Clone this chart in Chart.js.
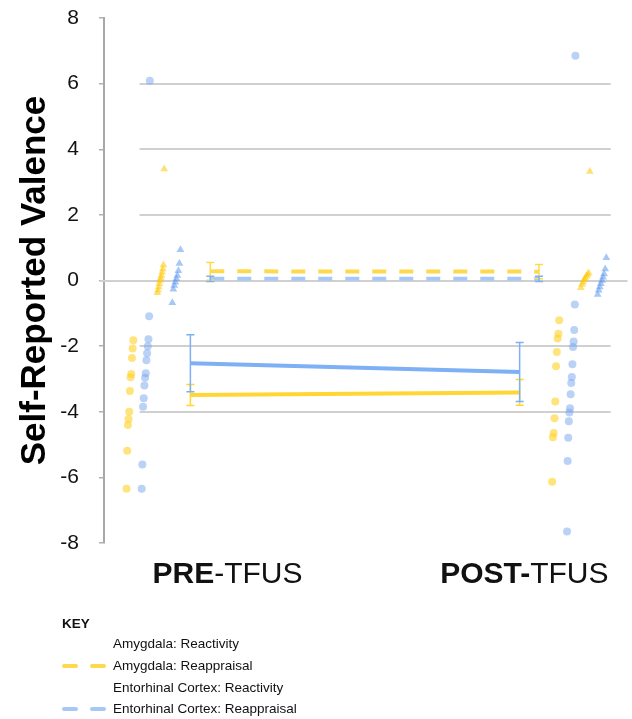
<!DOCTYPE html>
<html>
<head>
<meta charset="utf-8">
<script src="https://cdn.jsdelivr.net/npm/chart.js@4/dist/chart.umd.min.js"></script>
<style>
  html, body { margin: 0; padding: 0; background: #fff; }
  #wrap { position: relative; width: 632px; height: 719px; }
  #grafico { position: absolute; left: 0; top: 0; }
  .key { position: absolute; font-family: "Liberation Sans", Arial, sans-serif; font-size: 13.5px; line-height: 13.5px; color: #111; white-space: nowrap; }
  .key.title { font-weight: bold; }
  .dash { position: absolute; height: 4px; border-radius: 2px; }
</style>
</head>
<body>
<div id="wrap">
  <canvas id="grafico" width="632" height="719"></canvas>

  <div class="key title" style="left:62px; top:617px;">KEY</div>
  <div class="key" style="left:113px; top:637px;">Amygdala: Reactivity</div>
  <div class="key" style="left:113px; top:659px;">Amygdala: Reappraisal</div>
  <div class="key" style="left:113px; top:681px;">Entorhinal Cortex: Reactivity</div>
  <div class="key" style="left:113px; top:702px;">Entorhinal Cortex: Reappraisal</div>
  <div class="dash" style="left:62px; width:16px; top:664px; background:#FFD94D;"></div>
  <div class="dash" style="left:90px; width:16px; top:664px; background:#FFD94D;"></div>
  <div class="dash" style="left:62px; width:16px; top:707px; background:#A7C7F7;"></div>
  <div class="dash" style="left:90px; width:16px; top:707px; background:#A7C7F7;"></div>
</div>

<script>
// valores
var conditions = ['PRE', 'POST'];
var yTicks = [-8, -6, -4, -2, 0, 2, 4, 6, 8];
var gridValues = [-4, -2, 2, 4, 6];

// medias e erros (PRE, POST)
var amygReactMean = [-3.49, -3.41];
var amygReactErr = [0.32, 0.39];
var amygReapMean = [0.28, 0.27];
var amygReapErr = [0.27, 0.22];
var ecReactMean = [-2.52, -2.79];
var ecReactErr = [0.87, 0.9];
var ecReapMean = [0.05, 0.05];
var ecReapErr = [0.08, 0.08];

// pontos individuais
var preAmygReact = [-6.35, -5.19, -4.4, -4.22, -4.0, -3.37, -2.95, -2.85, -2.36, -2.07, -1.82];
var preEcReact = [-6.35, -5.61, -3.85, -3.59, -3.2, -2.96, -2.83, -2.43, -2.22, -2.0, -1.79, -1.09, 6.09];
var preAmygReap = [-0.37, -0.3, -0.2, -0.1, 0.0, 0.08, 0.15, 0.25, 0.35, 0.47, 3.4];
var preEcReap = [-0.68, -0.27, -0.15, -0.05, 0.05, 0.15, 0.3, 0.52, 0.94];
var postAmygReact = [-6.13, -4.78, -4.65, -4.2, -3.69, -2.61, -2.18, -1.77, -1.62, -1.21];
var postEcReact = [-7.65, -5.5, -4.79, -4.29, -4.02, -3.89, -3.47, -3.12, -2.94, -2.55, -2.03, -1.86, -1.51, -0.73, 6.85];
var postAmygReap = [-0.22, -0.12, -0.05, 0.02, 0.08, 0.13, 0.18, 0.23, 3.32];
var postEcReap = [-0.43, -0.3, -0.2, -0.1, 0.0, 0.1, 0.2, 0.35, 0.69];

// layout no eixo x (escala 0..100)
var reactX = [16.5, 79.4];
var reapX = [20.3, 83.1];
var labelX = [23.6, 80.3];
var gridFrom = 6.8, gridTo = 96.8;

var yellow = '#FFD633', yellowDash = '#FFD94D';
var blue = '#7DB0F5', blueDash = '#A7C7F7';
var fonte = '"Liberation Sans", Arial, sans-serif';

// pontos ordenados, espalhados em diagonal como no original
function _espalha(values, xFrom, xTo) {
    var sorted = values.slice().sort(function (a, b) { return a - b; });
    var step = sorted.length > 1 ? (xTo - xFrom) / (sorted.length - 1) : 0;
    return sorted.map(function (v, i) { return { x: xFrom + i * step, y: v }; });
}

function _pontos(data, color, style, radius) {
    return {
        type: 'scatter', data: data, pointStyle: style, pointRadius: radius,
        backgroundColor: color, borderWidth: 0, pointHoverRadius: radius
    };
}

function _linha(xs, means, color, dash) {
    return {
        type: 'line',
        data: xs.map(function (x, i) { return { x: x, y: means[i] }; }),
        borderColor: color, borderWidth: 4, borderDash: dash || [],
        pointRadius: 0, fill: false, tension: 0
    };
}

var errorSets = [
    { xs: reactX, mean: amygReactMean, err: amygReactErr, color: yellow },
    { xs: reactX, mean: ecReactMean, err: ecReactErr, color: blue },
    { xs: reapX, mean: amygReapMean, err: amygReapErr, color: yellowDash },
    { xs: reapX, mean: ecReapMean, err: ecReapErr, color: blue }
];

var gridPlugin = {
    id: 'gridPlugin',
    beforeDatasetsDraw: function (chart) {
        var ctx = chart.ctx, x = chart.scales.x, y = chart.scales.y;
        ctx.save();
        ctx.strokeStyle = '#d0d0d0';
        ctx.lineWidth = 2;
        gridValues.forEach(function (v) {
            var py = Math.round(y.getPixelForValue(v));
            ctx.beginPath();
            ctx.moveTo(x.getPixelForValue(gridFrom), py);
            ctx.lineTo(x.getPixelForValue(gridTo), py);
            ctx.stroke();
        });
        var p0 = Math.round(y.getPixelForValue(0));
        ctx.beginPath();
        ctx.moveTo(chart.chartArea.left - 4, p0);
        ctx.lineTo(chart.chartArea.right, p0);
        ctx.stroke();
        ctx.restore();
    }
};

var errorPlugin = {
    id: 'errorPlugin',
    afterDatasetsDraw: function (chart) {
        var ctx = chart.ctx, x = chart.scales.x, y = chart.scales.y;
        ctx.save();
        ctx.lineWidth = 1.5;
        errorSets.forEach(function (s) {
            ctx.strokeStyle = s.color;
            s.xs.forEach(function (xv, i) {
                var px = x.getPixelForValue(xv);
                var top = y.getPixelForValue(s.mean[i] + s.err[i]);
                var bot = y.getPixelForValue(s.mean[i] - s.err[i]);
                ctx.beginPath();
                ctx.moveTo(px, top); ctx.lineTo(px, bot);
                ctx.moveTo(px - 4, top); ctx.lineTo(px + 4, top);
                ctx.moveTo(px - 4, bot); ctx.lineTo(px + 4, bot);
                ctx.stroke();
            });
        });
        ctx.restore();
    }
};

// PRE-TFUS / POST-TFUS com parte em negrito
var labelPlugin = {
    id: 'labelPlugin',
    afterDraw: function (chart) {
        var ctx = chart.ctx, x = chart.scales.x;
        var partes = [['PRE', '-TFUS'], ['POST-', 'TFUS']];
        var base = chart.chartArea.bottom + 40;
        ctx.save();
        ctx.fillStyle = '#111';
        ctx.textBaseline = 'alphabetic';
        ctx.textAlign = 'left';
        partes.forEach(function (p, i) {
            ctx.font = 'bold 30px ' + fonte;
            var w1 = ctx.measureText(p[0]).width;
            ctx.font = '30px ' + fonte;
            var w2 = ctx.measureText(p[1]).width;
            var start = x.getPixelForValue(labelX[i]) - (w1 + w2) / 2;
            ctx.font = 'bold 30px ' + fonte;
            ctx.fillText(p[0], start, base);
            ctx.font = '30px ' + fonte;
            ctx.fillText(p[1], start + w1, base);
        });
        ctx.restore();
    }
};

var ctx = document.getElementById('grafico').getContext('2d');
var chart = new Chart(ctx, {
    data: {
        datasets: [
            _pontos(_espalha(preAmygReact, 4.3, 5.6), 'rgba(255, 210, 40, 0.6)', 'circle', 4),
            _pontos(_espalha(preEcReact, 7.2, 8.75), 'rgba(120, 165, 240, 0.5)', 'circle', 4),
            _pontos(_espalha(preAmygReap, 10.2, 11.5), 'rgba(255, 200, 0, 0.55)', 'triangle', 4.5),
            _pontos(_espalha(preEcReap, 13.05, 14.6), 'rgba(80, 145, 240, 0.5)', 'triangle', 4.5),
            _pontos(_espalha(postAmygReact, 85.6, 86.95), 'rgba(255, 210, 40, 0.6)', 'circle', 4),
            _pontos(_espalha(postEcReact, 88.45, 90.05), 'rgba(120, 165, 240, 0.5)', 'circle', 4),
            _pontos(_espalha(postAmygReap, 91.1, 92.8), 'rgba(255, 200, 0, 0.55)', 'triangle', 4.5),
            _pontos(_espalha(postEcReap, 94.3, 95.95), 'rgba(80, 145, 240, 0.5)', 'triangle', 4.5),
            _linha(reactX, amygReactMean, yellow),
            _linha(reactX, ecReactMean, blue),
            _linha(reapX, amygReapMean, yellowDash, [14, 13]),
            _linha(reapX, ecReapMean, blueDash, [14, 13])
        ]
    },
    options: {
        responsive: false,
        animation: false,
        layout: { padding: { top: 18, bottom: 176, left: 0, right: 2 } },
        plugins: { legend: { display: false }, tooltip: { enabled: false } },
        scales: {
            x: { type: 'linear', min: 0, max: 100, display: false },
            y: {
                type: 'linear', min: -8, max: 8,
                afterBuildTicks: function (scale) {
                    scale.ticks = yTicks.map(function (v) { return { value: v }; });
                },
                afterFit: function (scale) {
                    scale.width = 104;
                    scale.paddingTop = 0;
                    scale.paddingBottom = 0;
                },
                ticks: { color: '#111', padding: 20, font: { family: fonte, size: 21 } },
                grid: { drawOnChartArea: false, drawTicks: true, tickLength: 5, color: '#b0b0b0', lineWidth: 1.5 },
                border: { color: '#a8a8a8', width: 2 },
                title: {
                    display: true, text: 'Self-Reported Valence', color: '#000',
                    font: { family: fonte, size: 35, weight: 'bold' },
                    padding: { top: 14, bottom: 0 }
                }
            }
        }
    },
    plugins: [gridPlugin, errorPlugin, labelPlugin]
});
</script>
</body>
</html>
